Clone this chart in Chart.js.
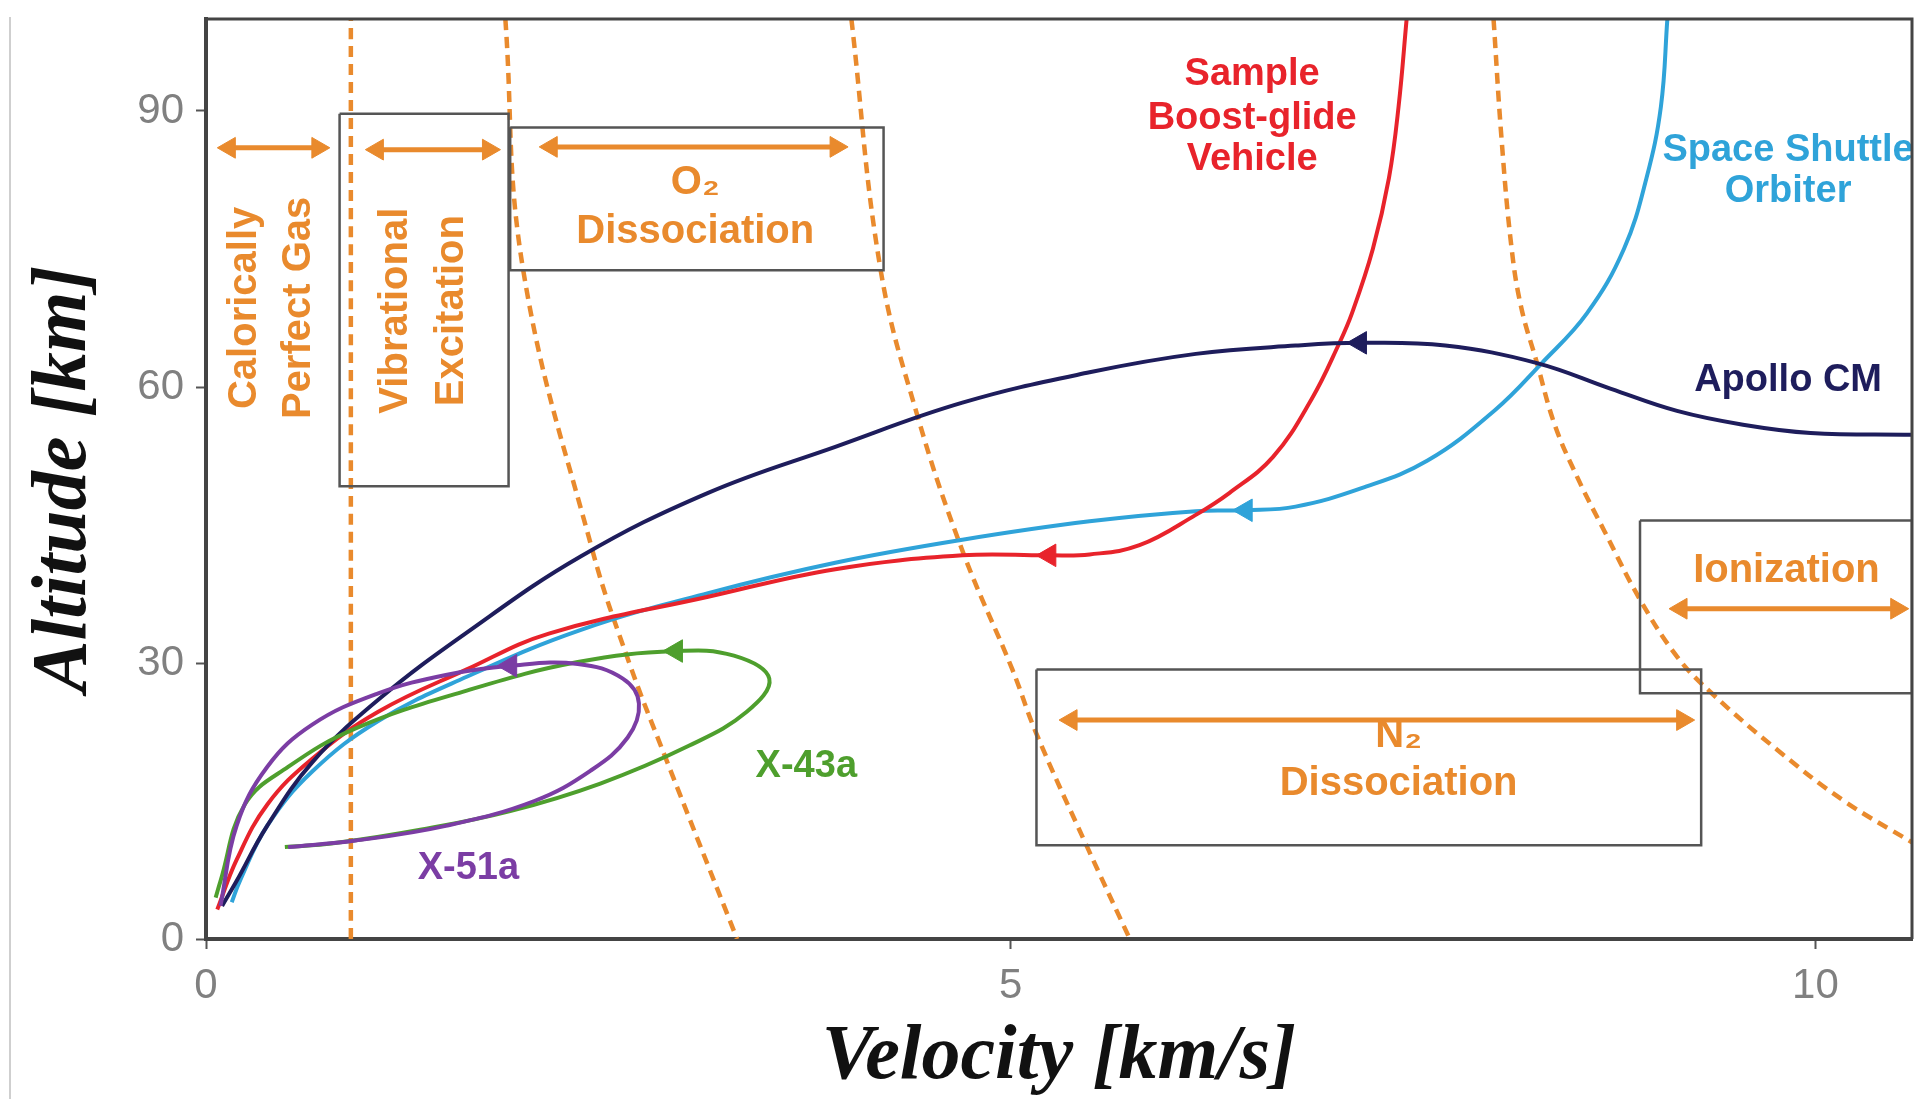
<!DOCTYPE html>
<html>
<head>
<meta charset="utf-8">
<title>Velocity x Altitude</title>
<script src="https://cdn.jsdelivr.net/npm/chart.js@4.4.1/dist/chart.umd.min.js"></script>
<style>
  html, body { margin: 0; padding: 0; background: #fff; }
  #caixa { position: relative; width: 1926px; height: 1099px; }
</style>
</head>
<body>
<div id="caixa"><canvas id="grafico"></canvas></div>
<script>
// ticks dos eixos
const xTicks = [0, 5, 10];
const yTicks = [0, 30, 60, 90];

// trajetorias: velocidade (km/s) e altitude (km)
const apolloVel = [0.10, 0.19, 0.38, 0.66, 1.07, 1.62, 2.33, 3.12, 3.91, 4.70, 5.49, 6.15, 6.77, 7.17, 7.70, 8.27, 8.73, 9.14, 9.55, 9.97, 10.6];
const apolloAlt = [3.6, 6.3, 12.3, 19.2, 26.0, 33.3, 41.6, 48.5, 53.5, 58.3, 61.6, 63.6, 64.5, 64.8, 64.5, 62.6, 59.8, 57.4, 55.9, 55.0, 54.8];

const boostVel = [0.07, 0.19, 0.38, 0.66, 1.07, 1.62, 2.13, 3.12, 3.91, 4.70, 5.24, 5.49, 5.80, 6.15, 6.36, 6.63, 6.87, 7.04, 7.12, 7.25, 7.35, 7.41, 7.46];
const boostAlt = [3.2, 8.6, 14.6, 19.6, 24.7, 29.3, 33.2, 37.2, 40.2, 41.7, 41.7, 41.8, 42.8, 46.1, 48.5, 52.4, 58.7, 64.7, 68.0, 75.0, 82.7, 90.5, 100];

const shuttleVel = [0.16, 0.21, 0.38, 0.66, 1.07, 1.62, 2.33, 3.12, 3.91, 4.70, 5.49, 6.15, 6.46, 6.77, 7.18, 7.59, 8.01, 8.30, 8.58, 8.81, 8.95, 9.04, 9.08];
const shuttleAlt = [4.0, 6.3, 12.3, 18.2, 23.7, 28.5, 33.6, 37.6, 40.9, 43.4, 45.4, 46.5, 46.6, 47.0, 49.0, 52.0, 57.5, 62.6, 68.0, 75.0, 82.7, 90.5, 100];

const x43Vel = [0.49, 0.79, 1.34, 1.89, 2.45, 3.00, 3.36, 3.50, 3.28, 2.92, 2.31, 1.62, 0.93, 0.51, 0.24, 0.09, 0.06];
const x43Alt = [10.0, 10.4, 11.9, 13.9, 16.9, 21.0, 24.7, 28.3, 30.8, 31.3, 30.1, 27.0, 22.9, 18.7, 14.6, 6.3, 4.5];

const x51Vel = [0.51, 0.93, 1.49, 2.04, 2.39, 2.62, 2.69, 2.59, 2.31, 1.89, 1.49, 1.07, 0.66, 0.38, 0.19, 0.09];
const x51Alt = [10.0, 10.7, 12.3, 15.0, 18.3, 21.9, 25.6, 28.3, 29.9, 29.7, 28.7, 26.7, 23.3, 18.7, 12.3, 3.6];

// setas de direcao nas trajetorias
const setaVel = [7.17, 5.24, 6.46, 2.92, 1.89];
const setaAlt = [64.8, 41.7, 46.6, 31.3, 29.7];

// limites dos regimes (linhas tracejadas)
const limiteAVel = [0.90, 0.90];
const limiteAAlt = [0, 100];
const limiteBVel = [1.86, 1.97, 2.40, 2.63, 2.86, 3.30];
const limiteBAlt = [100, 72.8, 42.3, 30.0, 19.5, 0];
const limiteCVel = [4.01, 4.19, 4.42, 4.70, 5.01, 5.16, 5.47, 5.74];
const limiteCAlt = [100, 72.9, 56.9, 42.2, 29.3, 22.3, 10.2, 0];
const limiteDVel = [8.00, 8.05, 8.11, 8.17, 8.27, 8.38, 8.52, 8.69, 8.91, 9.14, 9.35, 9.76, 10.17, 10.6];
const limiteDAlt = [100, 86.9, 75.4, 68.8, 62.6, 55.9, 50.2, 44.3, 36.9, 30.7, 26.8, 20.6, 15.1, 10.5];

// caixas [vel1, vel2, alt1, alt2]
const caixaVib = [0.83, 1.88, 49.2, 89.7];
const caixaO2 = [1.89, 4.21, 72.7, 88.2];
const caixaN2 = [5.16, 9.29, 10.2, 29.3];
const caixaIon = [8.91, 10.6, 26.7, 45.5];

// setas duplas [vel1, vel2, alt]
const setaGas = [0.07, 0.77, 86.0];
const setaVib = [0.99, 1.83, 85.8];
const setaO2 = [2.07, 3.99, 86.1];
const setaN2 = [5.30, 9.25, 23.8];
const setaIon = [9.09, 10.58, 35.9];

// cores
const LARANJA = '#E98A2D';
const COR_APOLLO = '#1E1D5C';
const COR_BOOST = '#E8232B';
const COR_SHUTTLE = '#2FA3D9';
const COR_X43 = '#4E9F2D';
const COR_X51 = '#7B3DA4';
const COR_CAIXA = '#555555';

const pares = (xs, ys) => xs.map((x, i) => ({ x: x, y: ys[i] }));

function trajetoria(vel, alt, cor) {
    return { data: pares(vel, alt), showLine: true, borderColor: cor, borderWidth: 4, pointRadius: 0, tension: 0.4, fill: false };
}

function tracejada(vel, alt) {
    return {
        data: pares(vel, alt), showLine: true, borderColor: LARANJA, borderWidth: 4.5, borderDash: [11, 7],
        pointRadius: 0, tension: 0.4, fill: false
    };
}

function caixa(c) {
    return {
        data: [{ x: c[0], y: c[3] }, { x: c[1], y: c[3] }, { x: c[1], y: c[2] }, { x: c[0], y: c[2] }, { x: c[0], y: c[3] }],
        showLine: true, borderColor: COR_CAIXA, borderWidth: 2.5, pointRadius: 0, tension: 0, fill: false
    };
}

function hasteSeta(s) {
    return { data: [{ x: s[0] + 0.03, y: s[2] }, { x: s[1] - 0.03, y: s[2] }], showLine: true, borderColor: LARANJA, borderWidth: 5, pointRadius: 0 };
}

function pontasSeta(s) {
    return {
        data: [{ x: s[0] + 0.075, y: s[2] }, { x: s[1] - 0.075, y: s[2] }],
        showLine: false, pointStyle: 'triangle', pointRadius: 12, pointRotation: [270, 90],
        backgroundColor: LARANJA, borderColor: LARANJA, borderWidth: 1
    };
}

const datasets = [
    {
        data: pares(setaVel, setaAlt), showLine: false, pointStyle: 'triangle', pointRadius: 13, pointRotation: 270,
        backgroundColor: [COR_APOLLO, COR_BOOST, COR_SHUTTLE, COR_X43, COR_X51],
        borderColor: [COR_APOLLO, COR_BOOST, COR_SHUTTLE, COR_X43, COR_X51], borderWidth: 1
    },
    trajetoria(x51Vel, x51Alt, COR_X51),
    trajetoria(x43Vel, x43Alt, COR_X43),
    trajetoria(apolloVel, apolloAlt, COR_APOLLO),
    trajetoria(boostVel, boostAlt, COR_BOOST),
    trajetoria(shuttleVel, shuttleAlt, COR_SHUTTLE),
    pontasSeta(setaGas), hasteSeta(setaGas),
    pontasSeta(setaVib), hasteSeta(setaVib),
    pontasSeta(setaO2), hasteSeta(setaO2),
    pontasSeta(setaN2), hasteSeta(setaN2),
    pontasSeta(setaIon), hasteSeta(setaIon),
    caixa(caixaVib), caixa(caixaO2), caixa(caixaN2), caixa(caixaIon),
    tracejada(limiteAVel, limiteAAlt),
    tracejada(limiteBVel, limiteBAlt),
    tracejada(limiteCVel, limiteCAlt),
    tracejada(limiteDVel, limiteDAlt)
];

// textos do grafico (posicao em coordenadas dos dados)
const fonteRegiao = 'bold 40px "Liberation Sans", Arial, sans-serif';
const fonteVeiculo = 'bold 38px "Liberation Sans", Arial, sans-serif';
const textos = [
    { t: 'Calorically', x: 0.24, y: 68.6, cor: LARANJA, f: fonteRegiao, rot: true },
    { t: 'Perfect Gas', x: 0.58, y: 68.6, cor: LARANJA, f: fonteRegiao, rot: true },
    { t: 'Vibrational', x: 1.18, y: 68.3, cor: LARANJA, f: fonteRegiao, rot: true },
    { t: 'Excitation', x: 1.53, y: 68.3, cor: LARANJA, f: fonteRegiao, rot: true },
    { t: 'O\u2082', x: 3.04, y: 82.2, cor: LARANJA, f: fonteRegiao },
    { t: 'Dissociation', x: 3.04, y: 76.8, cor: LARANJA, f: fonteRegiao },
    { t: 'N\u2082', x: 7.41, y: 22.1, cor: LARANJA, f: fonteRegiao },
    { t: 'Dissociation', x: 7.41, y: 16.8, cor: LARANJA, f: fonteRegiao },
    { t: 'Ionization', x: 9.82, y: 40.0, cor: LARANJA, f: fonteRegiao },
    { t: 'Sample', x: 6.50, y: 94.0, cor: COR_BOOST, f: fonteVeiculo },
    { t: 'Boost-glide', x: 6.50, y: 89.2, cor: COR_BOOST, f: fonteVeiculo },
    { t: 'Vehicle', x: 6.50, y: 84.7, cor: COR_BOOST, f: fonteVeiculo },
    { t: 'Space Shuttle', x: 9.83, y: 85.7, cor: COR_SHUTTLE, f: fonteVeiculo },
    { t: 'Orbiter', x: 9.83, y: 81.2, cor: COR_SHUTTLE, f: fonteVeiculo },
    { t: 'Apollo CM', x: 9.83, y: 60.7, cor: COR_APOLLO, f: fonteVeiculo },
    { t: 'X-43a', x: 3.73, y: 18.8, cor: COR_X43, f: fonteVeiculo },
    { t: 'X-51a', x: 1.63, y: 7.7, cor: COR_X51, f: fonteVeiculo }
];

const pluginFundo = {
    id: 'fundo',
    beforeDraw(chart) {
        const ctx = chart.ctx;
        ctx.save();
        ctx.fillStyle = '#ffffff';
        ctx.fillRect(0, 0, chart.width, chart.height);
        ctx.fillStyle = '#cfcfcf';
        ctx.fillRect(9, 17, 2, chart.height - 17);
        ctx.restore();
    }
};

const pluginTextos = {
    id: 'textos',
    afterDatasetsDraw(chart) {
        const { ctx, chartArea, scales } = chart;
        ctx.save();
        ctx.beginPath();
        ctx.rect(chartArea.left, chartArea.top, chartArea.right - chartArea.left, chartArea.bottom - chartArea.top);
        ctx.clip();
        ctx.textAlign = 'center';
        ctx.textBaseline = 'middle';
        textos.forEach(item => {
            const px = scales.x.getPixelForValue(item.x);
            const py = scales.y.getPixelForValue(item.y);
            ctx.font = item.f;
            ctx.fillStyle = item.cor;
            if (item.rot) {
                ctx.save();
                ctx.translate(px, py);
                ctx.rotate(-Math.PI / 2);
                ctx.fillText(item.t, 0, 0);
                ctx.restore();
            } else {
                ctx.fillText(item.t, px, py);
            }
        });
        ctx.restore();

        // moldura do grafico
        ctx.save();
        ctx.strokeStyle = '#444';
        ctx.lineWidth = 3;
        ctx.beginPath();
        ctx.moveTo(chartArea.left, chartArea.top);
        ctx.lineTo(chartArea.right, chartArea.top);
        ctx.lineTo(chartArea.right, chartArea.bottom);
        ctx.stroke();
        ctx.restore();
    }
};

function semPadding(scale) {
    scale.paddingTop = 0;
    scale.paddingBottom = 0;
    scale.paddingLeft = 0;
    scale.paddingRight = 0;
}

const fonteTitulo = { family: '"Liberation Serif", "Times New Roman", serif', size: 78, style: 'italic', weight: 'bold', lineHeight: 1 };
const fonteTick = { family: '"Liberation Sans", Arial, sans-serif', size: 42 };

new Chart(document.getElementById('grafico'), {
    type: 'scatter',
    data: { datasets: datasets },
    options: {
        responsive: true,
        maintainAspectRatio: false,
        animation: false,
        layout: { padding: { top: 19, right: 6, left: 0, bottom: 0 } },
        plugins: {
            legend: { display: false },
            tooltip: { enabled: false }
        },
        scales: {
            x: {
                type: 'linear',
                min: 0,
                max: 10.6,
                afterBuildTicks: scale => { scale.ticks = xTicks.map(v => ({ value: v })); },
                afterFit: scale => { scale.height = 160; semPadding(scale); },
                ticks: { color: '#808080', font: fonteTick, padding: 12, maxRotation: 0, autoSkip: false },
                grid: { drawOnChartArea: false, drawTicks: true, tickLength: 10, tickColor: '#555', tickWidth: 2 },
                border: { display: true, color: '#444', width: 4 },
                title: { display: true, text: 'Velocity [km/s]', color: '#111', font: fonteTitulo, padding: { top: 0, bottom: 2 } }
            },
            y: {
                type: 'linear',
                min: 0,
                max: 100,
                afterBuildTicks: scale => { scale.ticks = yTicks.map(v => ({ value: v })); },
                afterFit: scale => { scale.width = 206; semPadding(scale); },
                ticks: { color: '#808080', font: fonteTick, padding: 12, autoSkip: false },
                grid: { drawOnChartArea: false, drawTicks: true, tickLength: 10, tickColor: '#555', tickWidth: 2 },
                border: { display: true, color: '#444', width: 4 },
                title: { display: true, text: 'Altitude [km]', color: '#111', font: fonteTitulo, padding: { top: 26, bottom: 0 } }
            }
        }
    },
    plugins: [pluginFundo, pluginTextos]
});
</script>
</body>
</html>
